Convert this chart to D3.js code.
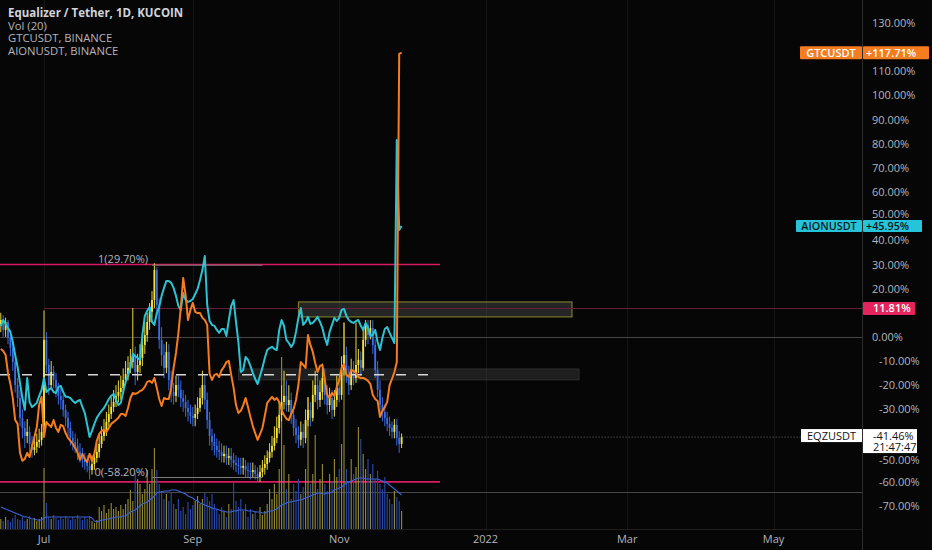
<!DOCTYPE html>
<html><head><meta charset="utf-8">
<script src="https://cdn.jsdelivr.net/npm/d3@7"></script>
<style>
html,body{margin:0;padding:0;background:#060606;}
svg{display:block;}
text{font-family:"Open Sans","Noto Sans",sans-serif;}
</style></head><body>
<svg id="c" width="932" height="550"></svg>
<script>
// ---------------- DATA ----------------
const startDate = "2021-06-13";
const eqzFirstOpen = 5;
const eqzClose = [7,2.9,6.2,-0.4,-4.6,-10.4,-19.9,-25.3,-33.5,-37.7,
-41,-39.3,-44.3,-46.8,-45.5,-43.5,-42.6,-39.3,-1.2,-11.6,
-19.9,-14.5,-17.8,-21.1,-24.4,-26.1,-30.2,-33.5,-37.7,-41.8,
-43.5,-45.1,-47.6,-49.3,-50.9,-51.8,-53.4,-55.1,-52.6,-50.1,
-47.6,-44.3,-41,-38.5,-35.2,-31.9,-29,-26.9,-24.4,-22.8,
-21.1,-17.8,-15.3,-12.8,-10.4,-7.9,-14.5,-11.6,-8.7,-3.3,
0.8,6.2,10.4,15.3,27.7,13.3,-1.2,-7.5,-12.8,-6.2,
-17.8,-22.8,-24.4,-19.9,-21.9,-25.3,-26.9,-29.4,-31.1,-32.7,
-33.5,-31.9,-29.4,-25.3,-19.9,-26.1,-34.4,-41,-43.5,-45.1,
-46.8,-47.6,-49.3,-48.4,-50.1,-49.3,-50.9,-52.2,-53,-53.4,
-54.2,-53.4,-55.1,-55.5,-55.9,-55.1,-56.7,-58,-55.9,-54.2,
-52.6,-50.1,-47.6,-45.1,-41.8,-37.7,-32.3,-26.9,-24.4,-28.2,
-26.1,-32.3,-37.7,-40.6,-42.6,-39.3,-41.8,-34.4,-30.2,-33.5,
-24,-19.9,-26.1,-22.8,-17,-24,-28.2,-25.3,-30.2,-26.1,
-21.1,-24,-13.7,-7.5,-15.7,-19.9,-13.7,-17,-11.6,-9.5,
-12.8,-1.2,5,0.8,3.7,-3.3,-13.7,-21.9,-28.2,-31.1,
-33.5,-36,-37.7,-39.3,-36.4,-41.8,-44.3,-41.46];
const eqzHigh = [10,9,8,7,1,-3,-8,-17,-22,-30,
-35,-34,-37,-41,-42,-40,-38,-36,11,2,
-9,-10,-12,-15,-19,-21,-24,-28,-31,-35,
-39,-40,-42,-44,-46,-48,-49,-51,-49,-47,
-44,-40,-37,-34,-31,-28,-25,-22,-20,-18,
-16,-13,-10,-8,-5,12,-4,-7,-3,2,
6,10,14,19,30.5,29,16,4,-3,-2,
-3,-14,-19,-16,-16,-18,-22,-24,-26,-28,
-29,-28,-25,-21,-14,-16,-23,-31,-38,-40,
-42,-43,-44,-45,-45,-46,-46,-48,-49,-50,
-50,-50,-51,-52,-52,-52,-53,-54,-53,-51,
-49,-47,-44,-41,-37,-33,-27,-20,-14,-18,
-20,-23,-29,-34,-37,-35,-36,-30,-25,-27,
-18,-14,-16,-18,-11,-13,-20,-21,-22,-22,
-16,-17,-8,6,-4,-12,-9,-10,6,-5,
-6,3,7,7,7,7,-1,-10,-18,-25,
-28,-31,-33,-35,-34,-34,-39,-40];
const eqzLow = [2,0,0,-3,-8,-14,-23,-29,-37,-42,
-46,-44,-48,-50,-49,-48,-46,-45,-41,-15,
-24,-22,-21,-25,-28,-30,-33,-37,-41,-45,
-47,-48,-51,-52,-54,-55,-56,-59,-57,-55,
-52,-50,-46,-43,-41,-37,-34,-31,-29,-27,
-26,-23,-20,-18,-15,-13,-20,-18,-15,-12,
-7,-2,3,8,12,9,-5,-12,-17,-15,
-22,-27,-28,-27,-25,-29,-31,-33,-35,-36,
-37,-37,-34,-31,-28,-30,-38,-45,-47,-49,
-50,-51,-52,-52,-53,-53,-54,-55,-56,-57,
-57,-57,-58,-58,-59,-58,-59,-60,-60,-58,
-57,-55,-52,-50,-47,-44,-40,-35,-30,-31,
-31,-36,-41,-44,-46,-45,-46,-44,-37,-37,
-35,-27,-30,-29,-26,-28,-32,-31,-34,-33,
-29,-27,-26,-16,-19,-24,-22,-20,-19,-15,
-16,-14,-4,-3,-1,-7,-17,-25,-32,-35,
-37,-39,-41,-42,-42,-45,-48,-46];
const gtc = [-5,-5.8,-7.5,-14.9,-19.5,-25.3,-34.4,-36,-48,-51.3,
-50.5,-48,-49.7,-45.5,-41.4,-37.3,-28,-24.8,-41.4,-35.2,
-36.4,-37.3,-34.4,-37.7,-39.3,-36.4,-36.9,-39.8,-41.8,-43,
-44.3,-46,-48,-50.9,-48.4,-50.5,-51.8,-48.4,-51.3,-48.4,
-43,-40.2,-38.9,-38.5,-39.3,-37.7,-36,-35.2,-34.4,-33.5,
-31.9,-31.9,-32.7,-29.4,-25.3,-23.2,-23.6,-23.2,-22.4,-21.9,
-20.7,-18.6,-18.2,-19,-17,-21.1,-25.7,-28.6,-25.3,-25.7,
-25.7,-21.1,-12.8,-6.6,1.7,12,24.4,17.4,7,11.2,
14.1,10.4,9.9,9.9,7.9,7,5,-15.3,-17.8,-15.7,
-15.3,-16.6,-13.7,-12.4,-10.4,-9.9,-15.7,-21.1,-28.2,-31.5,
-30.6,-28.2,-25.3,-29,-33.1,-36.9,-39.8,-42.6,-40.2,-37.7,
-32.7,-27.3,-26.1,-24.8,-26.1,-25.3,-26.9,-30.2,-32.3,-33.9,
-34.4,-31.9,-29.8,-26.1,-19.9,-10.4,-11.6,-12.8,0.8,-3.3,
-6.2,-10.8,-14.5,-12,-11.6,-17.8,-24,-25.3,-23.2,-24.4,
-20.7,-17.8,-12.8,-11.2,-15.7,-16.6,-13.7,-14.1,-14.9,-16.6,
-17,-17,-17.4,-18.2,-19.5,-24,-25.7,-26.5,-33.1,-30.6,
-29,-26.9,-19.9,-17.4,-14.5,-10.4,117.2,117.71];
const aion = [4.6,7,5.4,3.7,2.1,-2.1,-7.5,-12.4,-19,-25.3,
-30.2,-17,-27,-29,-28.2,-27.3,-24.4,-21.9,-17,-22.8,
-21.9,-21.1,-22.8,-23.2,-20.7,-20.3,-22.8,-24.8,-24.8,-25.3,
-26.5,-27.3,-26.5,-26.1,-29,-31.5,-36.4,-41.4,-38.9,-36,
-33.5,-31.9,-30.6,-29.4,-27.7,-25.7,-24.4,-23.6,-26.1,-28.2,
-27.3,-22.8,-18.6,-16.1,-12.8,-7,-7.9,-8.7,-9.5,0.8,
8.7,10.8,12.4,6.2,5,9.9,12.4,17,20.3,23.2,
23.2,22.4,20.3,17,12.8,11.2,18.2,15.3,14.5,14.9,
15.7,17.8,19.9,23.6,27.7,33.5,13.3,6.6,5,4.6,
2.9,1.7,3.3,3.3,0.4,7,12.8,15.3,6.2,-2.1,
-14.5,-13.7,-8.3,-9.5,-12,-14.9,-17.4,-19.5,-16.1,-12.8,
-8.7,-5.4,-4.6,-4.1,-5,-5.4,2.9,7,4.6,-1.2,
-2.5,-4.1,-2.5,2.1,7.9,12,5,6.2,8.3,5.4,
5.8,7,8.3,6.2,3.7,-0.4,-3.3,2.1,5,7.9,
6.6,7.9,11.2,11.6,8.7,7,6.2,5.8,6.6,7,
4.6,2.9,5.8,3.7,0.4,0.8,2.9,-2.1,-5.4,-0.4,
3.3,4.1,1.7,-0.4,-2.5,81.6,44.3,45.95];
const volume = [10,8,12,9,7,11,14,10,9,12,
8,10,13,9,11,8,10,12,61,26,
12,10,14,11,9,12,10,13,11,9,
12,10,14,11,9,12,10,13,8,6,
9,22,18,24,16,20,26,20,22,18,
24,20,25,30,39,28,56,50,45,35,
40,59,45,60,81,59,45,38,30,35,
28,36,25,20,30,18,22,15,27,20,
24,28,33,25,30,36,32,28,35,25,
20,15,22,18,12,25,20,46,28,22,
30,18,25,12,20,15,18,10,22,14,
18,25,40,30,45,35,60,172,84,40,
55,30,45,38,50,35,42,60,132,45,
55,94,40,50,65,45,38,55,48,70,
52,60,85,206,60,48,70,55,62,102,
90,75,60,70,55,65,50,58,45,40,
52,35,30,25,38,32,28,18];
const volumeMA = [22,21,20,19,18,17,16,15,14,13,
12,12,11,10,10,9,9,9,11,12,
12,12,12,12,12,12,12,12,12,12,
12,12,12,12,12,12,12,12,11,8,
7,8,9,9,10,10,11,11,12,12,
12,13,13,15,17,18,19,21,23,25,
26,27,29,31,33,36,37,37,38,38,
38,39,39,39,38,37,36,35,33,32,
31,29,28,26,25,24,23,22,21,20,
20,19,18,18,17,17,17,18,18,19,
19,19,19,18,18,18,17,17,17,16,
16,17,18,18,19,20,22,24,25,26,
27,27,28,28,29,29,30,31,32,33,
34,35,36,36,35,35,36,36,37,39,
40,41,42,44,46,47,48,49,50,51,
51,51,50,50,50,50,50,50,49,48,
47,46,44,42,40,38,36,34];

const yTicks = [130,120,110,100,90,80,70,60,50,40,30,20,10,0,-10,-20,-30,-40,-50,-60,-70];
const xTickDates = ["2021-07-01","2021-09-01","2021-11-01","2022-01-01","2022-03-01","2022-05-01"];
const xTickLabels = ["Jul","Sep","Nov","2022","Mar","May"];
const legendLines = ["Equalizer / Tether, 1D, KUCOIN","Vol (20)","GTCUSDT, BINANCE","AIONUSDT, BINANCE"];

const pinkLevels = [30, -60];
const pinkEnd = "2021-12-13";
const refLevel = 11.81, refStart = "2021-07-01";
const grayLevels = [0, -64];
const dashLevel = -15.7, dashEnd = "2021-12-13";
const fibStart = "2021-08-15", fibEnd = "2021-09-30";
const fibLevels = [29.7, -58.2];
const fibLabels = ["1(29.70%)", "0(-58.20%)"];
const zoneYellow = ["2021-10-15","2022-02-06", 14.5, 8.3];
const zoneGray = ["2021-09-20","2022-02-09", -13.2, -17.8];
const lastGTC = 117.71, lastAION = 45.95, lastEQZ = -41.46, countdown = "21:47:47";

// ---------------- CHART ----------------
const W = 932, H = 550, plotR = 862, plotB = 529;
const svg = d3.select("#c");
const parse = d3.utcParse("%Y-%m-%d");
const d0 = parse(startDate);
const dates = eqzClose.map((_, i) => d3.utcDay.offset(d0, i));
const dMax = parse("2022-05-01");
const x = d3.scaleUtc().domain([d0, dMax]).range([0.8, 0.8 + 2.4 * d3.utcDay.count(d0, dMax)]);
const y = d3.scaleLinear().domain([-70, 130]).range([506, 23]);
const yv = d3.scaleLinear().domain([0, 250]).range([plotB, plotB - 250]);

svg.append("rect").attr("width", W).attr("height", H).attr("fill", "#060606");
svg.append("defs").append("clipPath").attr("id", "clip")
  .append("rect").attr("x", 0).attr("y", 0).attr("width", plotR).attr("height", plotB);
const g = svg.append("g").attr("clip-path", "url(#clip)");

// grid
g.selectAll(".vg").data(xTickDates).join("line")
  .attr("x1", d => Math.round(x(parse(d))) + 0.5).attr("x2", d => Math.round(x(parse(d))) + 0.5)
  .attr("y1", 0).attr("y2", plotB).attr("stroke", "#151515").attr("stroke-width", 1);

// gray horizontal lines
g.selectAll(".gl").data(grayLevels).join("line")
  .attr("x1", 0).attr("x2", plotR).attr("y1", d => Math.round(y(d)) + 0.5).attr("y2", d => Math.round(y(d)) + 0.5)
  .attr("stroke", "#474747").attr("stroke-width", 1);

// zones
[zoneGray, zoneYellow].forEach((z, k) => {
  g.append("rect").attr("x", x(parse(z[0]))).attr("width", x(parse(z[1])) - x(parse(z[0])))
    .attr("y", y(z[2])).attr("height", y(z[3]) - y(z[2]))
    .attr("fill", k === 0 ? "rgba(110,110,110,0.24)" : "rgba(110,110,110,0.3)")
    .attr("stroke", k === 0 ? "rgba(90,90,90,0.35)" : "#8c8a2c").attr("stroke-width", 1);
});

// reference (maroon) line
g.append("line").attr("x1", x(parse(refStart))).attr("x2", plotR)
  .attr("y1", Math.round(y(refLevel)) + 0.5).attr("y2", Math.round(y(refLevel)) + 0.5)
  .attr("stroke", "#6a1d3a").attr("stroke-width", 1.2);

// pink lines
g.selectAll(".pl").data(pinkLevels).join("line")
  .attr("x1", 0).attr("x2", x(parse(pinkEnd))).attr("y1", d => y(d)).attr("y2", d => y(d))
  .attr("stroke", "#d81b60").attr("stroke-width", 1.6);

// volume
const bars = dates.map((d, i) => ({ d, v: volume[i], up: eqzClose[i] >= (i === 0 ? eqzFirstOpen : eqzClose[i - 1]) }));
g.selectAll(".vb").data(bars).join("rect")
  .attr("x", b => x(b.d) - 0.55).attr("width", 1.1)
  .attr("y", b => yv(b.v)).attr("height", b => plotB - yv(b.v))
  .attr("fill", b => b.up ? "#948c34" : "#2b4aae");
g.append("path").datum(volumeMA)
  .attr("d", d3.line().x((v, i) => x(dates[i])).y(v => yv(v)))
  .attr("fill", "none").attr("stroke", "#3d63d6").attr("stroke-width", 1.1);

// candles
const candles = dates.map((d, i) => ({ d, o: i === 0 ? eqzFirstOpen : eqzClose[i - 1], c: eqzClose[i], h: eqzHigh[i], l: eqzLow[i] }));
const cg = g.append("g");
cg.selectAll(".wk").data(candles).join("line")
  .attr("x1", c => x(c.d)).attr("x2", c => x(c.d)).attr("y1", c => y(c.h)).attr("y2", c => y(c.l))
  .attr("stroke", c => c.c >= c.o ? "#e8d83a" : "#3a68e0").attr("stroke-width", 1);
cg.selectAll(".bd").data(candles).join("rect")
  .attr("x", c => x(c.d) - 0.9).attr("width", 1.8)
  .attr("y", c => y(Math.max(c.o, c.c))).attr("height", c => Math.max(1, Math.abs(y(c.o) - y(c.c))))
  .attr("fill", c => c.c >= c.o ? "#f7e53c" : "#3b6de6");

// fib
const fx0 = x(parse(fibStart)), fx1 = x(parse(fibEnd));
fibLevels.forEach((v, k) => {
  g.append("line").attr("x1", fx0).attr("x2", fx1).attr("y1", y(v)).attr("y2", y(v))
    .attr("stroke", "#7a7a7a").attr("stroke-width", 1);
  g.append("text").attr("x", fx0 - 4).attr("y", y(v) - 2).attr("text-anchor", "end")
    .attr("font-size", 11).attr("fill", "#b2b5be").text(fibLabels[k]);
});

// dashed line
g.append("line").attr("x1", 0).attr("x2", x(parse(dashEnd))).attr("y1", y(dashLevel)).attr("y2", y(dashLevel))
  .attr("stroke", "#d6d6d6").attr("stroke-width", 1.5).attr("stroke-dasharray", "10,12");

// comparison lines
const lineGen = d3.line().x((v, i) => x(dates[i])).y(v => y(v));
g.append("path").datum(aion).attr("d", lineGen).attr("fill", "none")
  .attr("stroke", "#2cc3d3").attr("stroke-width", 2).attr("stroke-linejoin", "round");
g.append("path").datum(gtc).attr("d", lineGen).attr("fill", "none")
  .attr("stroke", "#f57c1f").attr("stroke-width", 2).attr("stroke-linejoin", "round");

// EQZ price line (dotted)
g.append("line").attr("x1", x(dates[dates.length - 1]) + 2).attr("x2", plotR)
  .attr("y1", y(lastEQZ)).attr("y2", y(lastEQZ)).attr("stroke", "#6a6a6a")
  .attr("stroke-width", 1).attr("stroke-dasharray", "1,2");

// borders
svg.append("line").attr("x1", plotR + 0.5).attr("x2", plotR + 0.5).attr("y1", 0).attr("y2", H)
  .attr("stroke", "#2a2a2a");
svg.append("line").attr("x1", 0).attr("x2", plotR).attr("y1", plotB + 0.5).attr("y2", plotB + 0.5)
  .attr("stroke", "#1e1e1e");

// y labels (those hidden behind price badges are skipped; near ones nudged away)
const badgeCenters = [y(lastGTC), y(refLevel), y(lastEQZ)];
const aionY = y(lastAION), eqzY = y(lastEQZ);
svg.selectAll(".yl").data(yTicks.filter(t => badgeCenters.every(c => Math.abs(y(t) - c) > 8))).join("text")
  .attr("x", d => d < 0 ? 879 : 872)
  .attr("y", d => {
    let yy = y(d) + 4;
    if (Math.abs(y(d) - aionY) < 12) yy += (y(d) < aionY ? -2 : 2);
    if (y(d) > eqzY && y(d) - eqzY < 25) yy += 2;
    return yy;
  })
  .attr("font-size", 11).attr("fill", "#b2b5be")
  .text(d => d.toFixed(2) + "%");

// x labels
svg.selectAll(".xl").data(xTickDates).join("text")
  .attr("x", d => x(parse(d))).attr("y", 543).attr("text-anchor", "middle")
  .attr("font-size", 11).attr("fill", "#b2b5be")
  .text((d, i) => xTickLabels[i]);

// badges
function badge(cy, leftX, label, valText, rightEnd, fill, txt, h, fs) {
  const gb = svg.append("g");
  gb.append("rect").attr("x", leftX).attr("y", cy - h / 2).attr("width", plotR - leftX).attr("height", h).attr("fill", fill).attr("rx", 1);
  gb.append("rect").attr("x", plotR + 1).attr("y", cy - h / 2).attr("width", rightEnd - plotR - 1).attr("height", h).attr("fill", fill).attr("rx", 1);
  gb.append("text").attr("x", (leftX + plotR) / 2).attr("y", cy + fs * 0.36).attr("text-anchor", "middle")
    .attr("font-size", fs).attr("font-weight", 600).attr("fill", txt).text(label);
  gb.append("text").attr("x", plotR + 4).attr("y", cy + fs * 0.36)
    .attr("font-size", fs).attr("font-weight", 600).attr("fill", txt).text(valText);
}
badge(y(lastGTC), 800, "GTCUSDT", "+" + lastGTC.toFixed(2) + "%", 929, "#f57c1f", "#ffffff", 13, 11);
badge(aionY, 796, "AIONUSDT", "+" + lastAION.toFixed(2) + "%", 922, "#26c4d8", "#0d1a22", 12, 10.8);

// 11.81 badge
svg.append("rect").attr("x", plotR + 1).attr("y", y(refLevel) - 6.5).attr("width", 52).attr("height", 13).attr("fill", "#e5245e").attr("rx", 1);
svg.append("text").attr("x", 873).attr("y", y(refLevel) + 4).attr("font-size", 11).attr("font-weight", 600)
  .attr("fill", "#ffffff").text(refLevel.toFixed(2) + "%");

// EQZ badge
svg.append("rect").attr("x", 801).attr("y", eqzY - 8).attr("width", plotR - 801).attr("height", 13).attr("fill", "#ffffff");
svg.append("text").attr("x", (801 + plotR) / 2).attr("y", eqzY + 3).attr("text-anchor", "middle")
  .attr("font-size", 11).attr("fill", "#131313").text("EQZUSDT");
svg.append("rect").attr("x", plotR + 1).attr("y", eqzY - 8).attr("width", 54).attr("height", 24).attr("fill", "#ffffff");
const et = svg.append("text").attr("font-size", 11).attr("fill", "#131313");
et.append("tspan").attr("x", 873).attr("y", eqzY + 3).text(lastEQZ.toFixed(2) + "%");
et.append("tspan").attr("x", 873).attr("y", eqzY + 14).text(countdown);

// legend
svg.selectAll(".lg").data(legendLines).join("text")
  .attr("x", 8).attr("y", (d, i) => 17 + i * 12.5)
  .attr("font-size", (d, i) => i === 0 ? 11.5 : 11.3).attr("font-weight", (d, i) => i === 0 ? 700 : 400)
  .attr("fill", (d, i) => i === 0 ? "#d1d4dc" : "#b2b5be").text(d => d);
</script>
</body></html>
